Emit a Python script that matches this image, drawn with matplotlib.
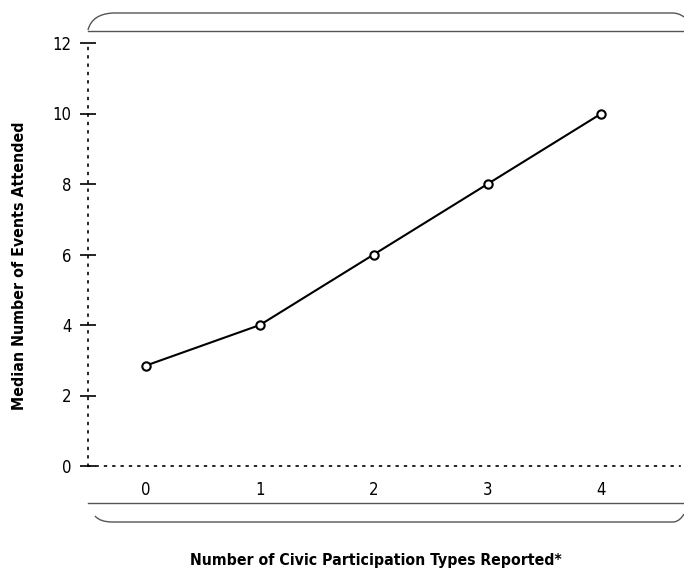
import matplotlib.pyplot as plt
from matplotlib.lines import Line2D
from matplotlib.path import Path
from matplotlib.patches import PathPatch

# data
types = [0, 1, 2, 3, 4]
median_events = [2.85, 4, 6, 8, 10]
y_ticks = [0, 2, 4, 6, 8, 10, 12]

plt.rcParams['font.family'] = ['DejaVu Sans']
plt.rcParams['font.stretch'] = 'condensed'

W, H = 684, 573
fig = plt.figure(figsize=(W / 100, H / 100), dpi=100)
ax = fig.add_axes([88 / W, (H - 466) / H, 592 / W, 423 / H])

ax.plot(types, median_events, color='black', lw=1.5, marker='o', ms=6,
        mfc='white', mec='black', mew=1.5, clip_on=False, zorder=3)

ax.set_xlim(-0.51, 4.69)
ax.set_ylim(0, 12)
ax.set_xticks(types)
ax.set_yticks(y_ticks)

for s in ['top', 'right']:
    ax.spines[s].set_visible(False)
for s in ['left', 'bottom']:
    ax.spines[s].set_linestyle((0, (1, 4)))
    ax.spines[s].set_linewidth(1.2)

ax.tick_params(axis='y', direction='inout', length=12, width=1.2, pad=6,
               labelsize=12)
ax.tick_params(axis='x', length=0, pad=11, labelsize=12)

fig.text(20 / W, 1 - 266 / H, 'Median Number of Events Attended', rotation=90,
         ha='center', va='center', fontsize=11.4, fontweight='bold')
fig.text(376 / W, 1 - 560 / H, 'Number of Civic Participation Types Reported*',
         ha='center', va='center', fontsize=11.3, fontweight='bold')


# decorative brackets above and below the plot (pixel coords -> figure)
def px(pts):
    return [(x / W, 1 - y / H) for x, y in pts]


def bracket(pts, codes):
    p = PathPatch(Path(px(pts), codes), fill=False, edgecolor='#555555',
                  lw=1.0, transform=fig.transFigure)
    fig.add_artist(p)


C = Path.CURVE3
M, L = Path.MOVETO, Path.LINETO
# top
fig.add_artist(Line2D([88 / W, 684 / W], [1 - 31 / H, 1 - 31 / H],
                      color='#555555', lw=1.0, transform=fig.transFigure))
bracket([(88, 30), (92, 14), (113, 13), (672, 13), (679, 13), (684, 17)],
        [M, C, C, L, C, C])
# bottom
fig.add_artist(Line2D([88 / W, 684 / W], [1 - 503 / H, 1 - 503 / H],
                      color='#555555', lw=1.0, transform=fig.transFigure))
bracket([(95, 516), (100, 522), (112, 522), (674, 522), (680, 521), (684, 514)],
        [M, C, C, L, C, C])

fig.savefig('out.png', dpi=100)
